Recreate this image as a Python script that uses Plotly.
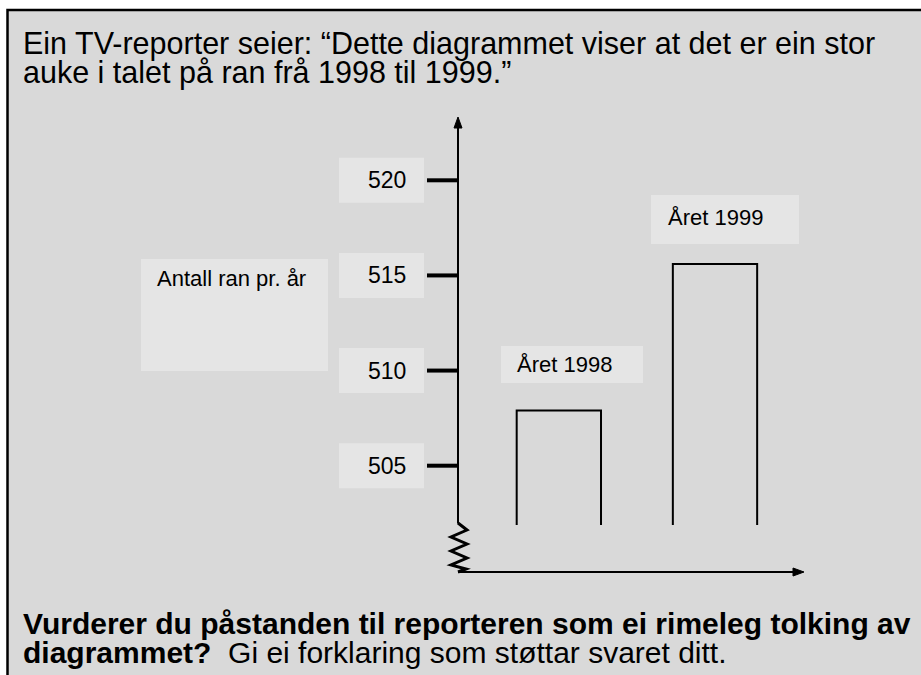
import plotly.graph_objects as go

# ---- data ----
years = [1998, 1999]
robberies = [507.9, 515.6]
bar_labels = ["Året 1998", "Året 1999"]
tick_values = [505, 510, 515, 520]
tick_labels = ["505", "510", "515", "520"]
axis_caption = "Antall ran pr. år"
title_lines = [
    "Ein TV-reporter seier: “Dette diagrammet viser at det er ein stor",
    "auke i talet på ran frå 1998 til 1999.”",
]
question_line1 = "<b>Vurderer du påstanden til reporteren som ei rimeleg tolking av</b>"
question_line2 = "<b>diagrammet?</b>  Gi ei forklaring som støttar svaret ditt."

# ---- scale helpers (pixel layout -> data coordinates) ----
W, H = 921, 675
X_PER_YEAR = 156.15
X_1998_PX = 558.85
Y_PER_UNIT = 19.027
Y_520_PX = 180.3


def X(px):
    return 1998 + (px - X_1998_PX) / X_PER_YEAR


def Y(py):
    return 520 - (py - Y_520_PX) / Y_PER_UNIT


FONT = "Liberation Sans, Arial, sans-serif"
FRAME_BG = "#d9d9d9"
BOX_BG = "#e5e5e5"
BAR_WIDTH = 0.54
BAR_BASE = Y(525)

fig = go.Figure()
shapes = []
annotations = []

# frame
shapes.append(dict(type="rect", xref="paper", yref="paper",
                   x0=7.5 / W, x1=1.05, y0=-0.05, y1=1 - 10 / H,
                   fillcolor=FRAME_BG, line=dict(color="black", width=2.5),
                   layer="below"))

# tick-label boxes and ticks
for v, lab in zip(tick_values, tick_labels):
    shapes.append(dict(type="rect", xref="x", yref="y",
                       x0=X(339), x1=X(424), y0=v - 22.5 / Y_PER_UNIT, y1=v + 22.5 / Y_PER_UNIT,
                       fillcolor=BOX_BG, line=dict(width=0), layer="below"))
    annotations.append(dict(x=X(386.5), y=v, xref="x", yref="y", text=lab,
                            showarrow=False, xanchor="center", yanchor="middle",
                            font=dict(family=FONT, size=23, color="black")))
    shapes.append(dict(type="line", xref="x", yref="y",
                       x0=X(427), x1=X(458), y0=v, y1=v,
                       line=dict(color="black", width=4)))

# axis caption box
shapes.append(dict(type="rect", xref="x", yref="y",
                   x0=X(141), x1=X(328), y0=Y(371), y1=Y(259),
                   fillcolor=BOX_BG, line=dict(width=0), layer="below"))
annotations.append(dict(x=X(155), y=Y(278), xref="x", yref="y", text=axis_caption,
                        showarrow=False, xanchor="left", yanchor="middle",
                        font=dict(family=FONT, size=22, color="black")))

# bar-label boxes
label_boxes = [(501, 643, 346, 383, 515, 364), (651, 799, 195, 244, 666, 217)]
for lab, (bx0, bx1, by0, by1, tx, ty) in zip(bar_labels, label_boxes):
    shapes.append(dict(type="rect", xref="x", yref="y",
                       x0=X(bx0), x1=X(bx1), y0=Y(by1), y1=Y(by0),
                       fillcolor=BOX_BG, line=dict(width=0), layer="below"))
    annotations.append(dict(x=X(tx), y=Y(ty), xref="x", yref="y", text=lab,
                            showarrow=False, xanchor="left", yanchor="middle",
                            font=dict(family=FONT, size=22, color="black")))

# vertical axis with arrow
shapes.append(dict(type="line", xref="x", yref="y",
                   x0=X(458), x1=X(458), y0=Y(523.5), y1=Y(126),
                   line=dict(color="black", width=2)))
shapes.append(dict(type="path", xref="x", yref="y",
                   path=f"M {X(454)} {Y(128)} L {X(458)} {Y(117)} L {X(462)} {Y(128)} Z",
                   fillcolor="black", line=dict(color="black", width=1)))

# zigzag axis break
zig = [(458, 523), (467, 530), (451, 537), (467, 544), (451, 551),
       (467, 558), (451, 565), (466, 569), (458, 572)]
zpath = "M " + " L ".join(f"{X(a)} {Y(b)}" for a, b in zig)
shapes.append(dict(type="path", xref="x", yref="y", path=zpath,
                   line=dict(color="black", width=3)))

# horizontal axis with arrow
shapes.append(dict(type="line", xref="x", yref="y",
                   x0=X(458), x1=X(795), y0=Y(572), y1=Y(572),
                   line=dict(color="black", width=2)))
shapes.append(dict(type="path", xref="x", yref="y",
                   path=f"M {X(793)} {Y(568)} L {X(804)} {Y(572)} L {X(793)} {Y(576)} Z",
                   fillcolor="black", line=dict(color="black", width=1)))

# bars (open at the bottom)
for yr, v in zip(years, robberies):
    x0, x1 = yr - BAR_WIDTH / 2, yr + BAR_WIDTH / 2
    fig.add_trace(go.Scatter(x=[x0, x0, x1, x1], y=[BAR_BASE, v, v, BAR_BASE],
                             mode="lines", line=dict(color="black", width=2),
                             hoverinfo="skip", showlegend=False))

# texts
for line, ty in zip(title_lines, [43, 73]):
    annotations.append(dict(x=21 / W, y=1 - ty / H, xref="paper", yref="paper", text=line,
                            showarrow=False, xanchor="left", yanchor="middle",
                            font=dict(family=FONT, size=30.5, color="black")))
for line, ty in zip([question_line1, question_line2], [623, 652]):
    annotations.append(dict(x=21 / W, y=1 - ty / H, xref="paper", yref="paper", text=line,
                            showarrow=False, xanchor="left", yanchor="middle",
                            font=dict(family=FONT, size=30, color="black")))

fig.update_layout(
    width=W, height=H,
    margin=dict(l=0, r=0, t=0, b=0, pad=0),
    paper_bgcolor="white", plot_bgcolor="rgba(0,0,0,0)",
    xaxis=dict(range=[X(0), X(W)], visible=False, fixedrange=True),
    yaxis=dict(range=[Y(H), Y(0)], visible=False, fixedrange=True),
    shapes=shapes, annotations=annotations, showlegend=False,
)

fig.write_html("out.html", config={"displayModeBar": False},
               post_script="document.body.style.margin='0';document.body.style.overflow='hidden';")
